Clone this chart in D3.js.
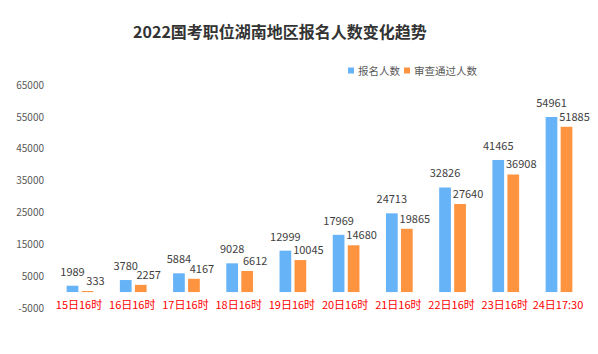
<!DOCTYPE html>
<html>
<head>
<meta charset="utf-8">
<script src="https://cdn.jsdelivr.net/npm/d3@7"></script>
<style>
  body { margin: 0; background: #fff; }
  text { font-family: "Noto Sans CJK SC", "Noto Sans", sans-serif; }
</style>
</head>
<body>
<div id="chart-area"></div>
<script>
const categories = ["15日16时", "16日16时", "17日16时", "18日16时", "19日16时", "20日16时", "21日16时", "22日16时", "23日16时", "24日17:30"]
const applied = [1989, 3780, 5884, 9028, 12999, 17969, 24713, 32826, 41465, 54961]
const approved = [333, 2257, 4167, 6612, 10045, 14680, 19865, 27640, 36908, 51885]
const yTicks = [-5000, 5000, 15000, 25000, 35000, 45000, 55000, 65000]
const seriesNames = ["报名人数", "审查通过人数"]
const colors = ["#66b3f7", "#fe9340"]

const W = 598, H = 354

const svg = d3.select("#chart-area").append("svg")
  .attr("width", W)
  .attr("height", H)

// Title
svg.append("text")
  .attr("x", 280)
  .attr("y", 38)
  .attr("text-anchor", "middle")
  .style("font-size", "16px")
  .style("font-weight", "600")
  .attr("fill", "#333")
  .text("2022国考职位湖南地区报名人数变化趋势")

const x = d3.scaleBand()
  .domain(categories)
  .range([53.4, 585.6])

const y = d3.scaleLinear()
  .domain([-5000, 65000])
  .range([308, 85])

// Y axis (labels only)
const yAxisCall = d3.axisLeft(y)
  .tickValues(yTicks)
  .tickSize(0)
  .tickPadding(0)
  .tickFormat(d => d)

const yAxis = svg.append("g")
  .attr("transform", "translate(44, 0)")
  .call(yAxisCall)
yAxis.select(".domain").remove()
yAxis.selectAll("text")
  .attr("fill", "#595959")
  .style("font-size", "10px")

// X axis labels, on the -5000 row
const xAxisCall = d3.axisBottom(x).tickSize(0).tickPadding(0)
const xAxis = svg.append("g")
  .attr("transform", `translate(-1, ${y(-5000) - 7})`)
  .call(xAxisCall)
xAxis.select(".domain").remove()
xAxis.selectAll("text")
  .attr("fill", "#ff0000")
  .style("font-size", "11px")

const bw = x.bandwidth() * 0.22
const gap = x.bandwidth() * 0.062

const g = svg.append("g")

// blue bars
g.selectAll("rect.applied")
  .data(applied)
  .enter().append("rect")
  .attr("class", "applied")
  .attr("x", (d, i) => x(categories[i]) + x.bandwidth() / 2 - gap / 2 - bw)
  .attr("y", d => y(d))
  .attr("width", bw)
  .attr("height", d => y(0) - y(d))
  .attr("fill", colors[0])

// orange bars
g.selectAll("rect.approved")
  .data(approved)
  .enter().append("rect")
  .attr("class", "approved")
  .attr("x", (d, i) => x(categories[i]) + x.bandwidth() / 2 + gap / 2)
  .attr("y", d => y(d))
  .attr("width", bw)
  .attr("height", d => y(0) - y(d))
  .attr("fill", colors[1])

// value labels
g.selectAll("text.applied")
  .data(applied)
  .enter().append("text")
  .attr("x", (d, i) => x(categories[i]) + x.bandwidth() / 2 - gap / 2 - bw / 2)
  .attr("y", d => y(d) - 10)
  .attr("text-anchor", "middle")
  .attr("fill", "#404040")
  .style("font-size", "11px")
  .text(d => d)

g.selectAll("text.approved")
  .data(approved)
  .enter().append("text")
  .attr("x", (d, i) => x(categories[i]) + x.bandwidth() / 2 + gap / 2 + bw / 2 + 8)
  .attr("y", d => y(d) - 6)
  .attr("text-anchor", "middle")
  .attr("fill", "#404040")
  .style("font-size", "11px")
  .text(d => d)

// Legend
const legendX = [348, 404]
const legend = svg.append("g")
seriesNames.forEach((name, i) => {
  legend.append("rect")
    .attr("x", legendX[i])
    .attr("y", 67.5)
    .attr("width", 6)
    .attr("height", 6)
    .attr("fill", colors[i])
  legend.append("text")
    .attr("x", legendX[i] + 10)
    .attr("y", 74.5)
    .attr("fill", "#595959")
    .style("font-size", "10.5px")
    .text(name)
})
</script>
</body>
</html>
